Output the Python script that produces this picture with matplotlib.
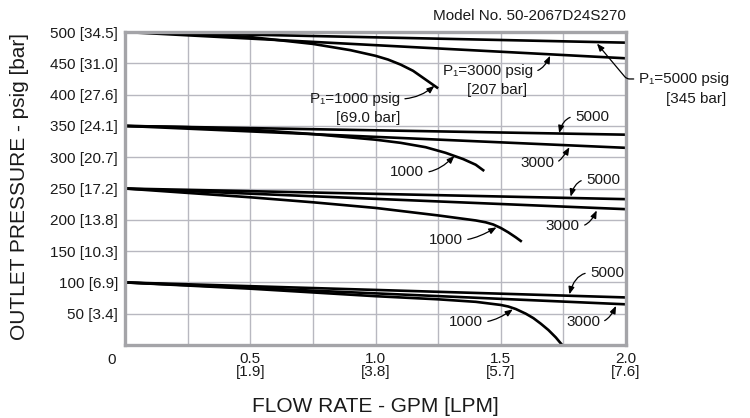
import matplotlib.pyplot as plt
import numpy as np

plt.rcParams['font.family'] = ['Liberation Sans', 'DejaVu Sans']

# Outlet pressure vs flow for three inlet pressures (P1), four set points
flow_5000 = [0.0, 2.0]
flow_3000 = [0.0, 2.0]
out_5000 = {500: [500, 483], 350: [350, 336], 250: [250, 233], 100: [100, 76]}
out_3000 = {500: [500, 458], 350: [350, 315], 250: [250, 217], 100: [100, 65]}

flow_1000 = {
    500: [0.0, 0.25, 0.5, 0.75, 0.9, 1.0, 1.05, 1.1, 1.15, 1.2, 1.25],
    350: [0.0, 0.25, 0.5, 0.75, 1.0, 1.1, 1.2, 1.28, 1.35, 1.4, 1.434],
    250: [0.0, 0.5, 0.75, 1.0, 1.25, 1.4, 1.44, 1.47, 1.5, 1.53, 1.56, 1.584],
    100: [0.0, 0.5, 1.0, 1.25, 1.4, 1.5, 1.53, 1.56, 1.6, 1.63, 1.66, 1.69, 1.72, 1.745],
}
out_1000 = {
    500: [500, 497.5, 492, 481, 471, 462, 456, 448, 438, 424, 410],
    350: [350, 348, 344, 337, 328, 323, 316, 307, 297, 288, 278],
    250: [250, 236, 228, 219, 207, 199, 196, 192.5, 187, 180, 172, 165],
    100: [100, 90, 78, 73, 69, 64, 61.5, 57.5, 50, 43, 34, 24, 12, 0],
}

y_ticks = [50, 100, 150, 200, 250, 300, 350, 400, 450, 500]
y_labels = ["50 [3.4]", "100 [6.9]", "150 [10.3]", "200 [13.8]", "250 [17.2]",
            "300 [20.7]", "350 [24.1]", "400 [27.6]", "450 [31.0]", "500 [34.5]"]
x_ticks = [0.5, 1.0, 1.5, 2.0]
x_labels = ["0.5\n[1.9]", "1.0\n[3.8]", "1.5\n[5.7]", "2.0\n[7.6]"]

text_color = "#1a1a1a"
grid_color = "#b8b8c0"
frame_color = "#a4a4a8"
fs = 11

fig = plt.figure(figsize=(7.5, 4.18), dpi=100)
ax = fig.add_axes([0.1667, 0.1746, 0.668, 0.7488])

ax.set_xlim(0, 2.0)
ax.set_ylim(0, 500)
ax.set_xticks(np.arange(0, 2.01, 0.25), minor=True)
ax.set_yticks(np.arange(0, 501, 50), minor=True)
ax.set_xticks(x_ticks)
ax.set_xticklabels(x_labels, fontsize=fs, color=text_color, linespacing=0.95)
ax.set_yticks(y_ticks)
ax.set_yticklabels(y_labels, fontsize=fs, color=text_color)
ax.grid(which="both", color=grid_color, linewidth=1.0)
ax.set_axisbelow(True)
ax.tick_params(axis="both", which="both", length=0)
ax.tick_params(axis="x", pad=5)
ax.tick_params(axis="y", pad=5)

for side in ax.spines.values():
    side.set_color(frame_color)
    side.set_linewidth(2.4)

# Curves
lw = 1.9
for p in [500, 350, 250, 100]:
    ax.plot(flow_5000, out_5000[p], color="black", lw=lw, solid_capstyle="butt")
    ax.plot(flow_3000, out_3000[p], color="black", lw=lw, solid_capstyle="butt")
    ax.plot(flow_1000[p], out_1000[p], color="black", lw=lw, solid_capstyle="butt",
            solid_joinstyle="round")

# Leader-line callouts
def callout(label, tip, pos, ha, conn, relpos):
    ax.annotate(label, xy=tip, xytext=pos, ha=ha, va="center", fontsize=fs,
                color=text_color, annotation_clip=False,
                arrowprops=dict(arrowstyle="-|>,head_length=0.4,head_width=0.16",
                                color="black", lw=0.9, shrinkA=1.5, shrinkB=0,
                                connectionstyle=conn, relpos=relpos))

right_hook = "angle3,angleA=0,angleB=75"

callout("P\u2081=1000 psig", (1.235, 414), (1.098, 393), "right", "angle3,angleA=0,angleB=40", (1, 0.5))
ax.text(1.098, 363, "[69.0 bar]", ha="right", va="center", fontsize=fs, color=text_color)

callout("P\u2081=3000 psig", (1.697, 462), (1.629, 437), "right", "angle3,angleA=0,angleB=65", (1, 0.5))
ax.text(1.605, 407, "[207 bar]", ha="right", va="center", fontsize=fs, color=text_color)

callout("P\u2081=5000 psig", (1.884, 481.5), (2.05, 425), "left", "angle,angleA=0,angleB=-50,rad=3", (0, 0.5))
ax.text(2.279, 393, "[345 bar]", ha="center", va="center", fontsize=fs, color=text_color,
        clip_on=False)

callout("1000", (1.315, 302), (1.194, 276), "right", "angle3,angleA=0,angleB=45", (1, 0.5))
callout("5000", (1.733, 338.5), (1.796, 365), "left", right_hook, (0, 0.5))
callout("3000", (1.774, 316), (1.713, 291), "right", "angle3,angleA=0,angleB=60", (1, 0.5))

callout("5000", (1.779, 237), (1.84, 264), "left", right_hook, (0, 0.5))
callout("3000", (1.883, 215), (1.816, 190), "right", "angle3,angleA=0,angleB=65", (1, 0.5))
callout("1000", (1.483, 188), (1.349, 168), "right", "angle3,angleA=0,angleB=30", (1, 0.5))

callout("5000", (1.774, 81), (1.856, 115.5), "left", right_hook, (0, 0.5))
callout("3000", (1.96, 62.5), (1.896, 37), "right", "angle3,angleA=0,angleB=65", (1, 0.5))
callout("1000", (1.548, 57), (1.429, 37), "right", "angle3,angleA=0,angleB=35", (1, 0.5))

# Origin label sits below-left of the corner
ax.annotate("0", xy=(0, 0), xytext=(-10, -11), textcoords="offset points",
            ha="center", va="center", fontsize=fs, color=text_color)

ax.text(1.0, 1.03, "Model No. 50-2067D24S270", transform=ax.transAxes,
        ha="right", va="bottom", fontsize=fs, color=text_color)

fig.text(375.5 / 750, 1 - 407 / 418, "FLOW RATE - GPM [LPM]", ha="center", va="center",
         fontsize=15, color=text_color)
fig.text(20 / 750, 1 - 187 / 418, "OUTLET PRESSURE - psig [bar]", ha="center", va="center",
         rotation=90, fontsize=15, color=text_color)

fig.savefig("out.png", dpi=100)
